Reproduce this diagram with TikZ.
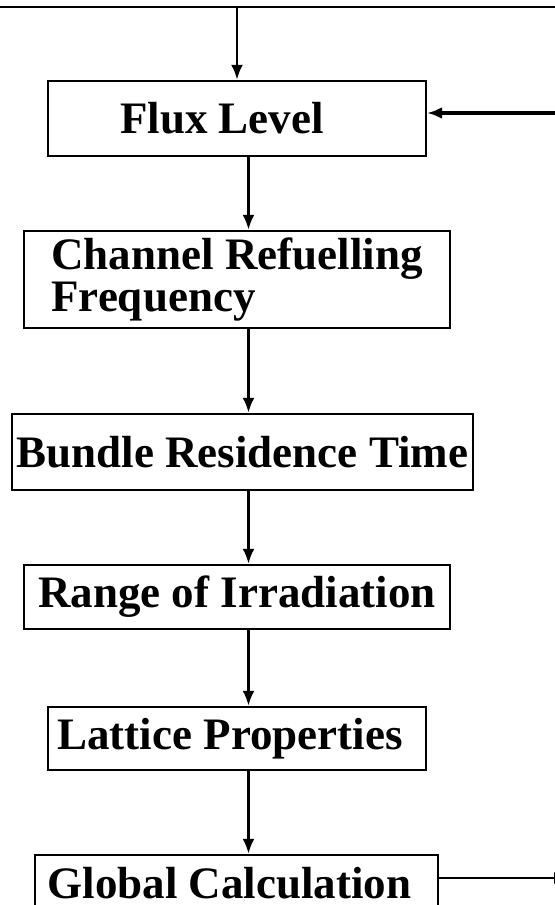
\documentclass[tikz,border=0pt]{standalone}
\usepackage{fontspec}
\setmainfont{Liberation Serif}
\usetikzlibrary{arrows.meta}

\tikzset{
  stage/.style={draw,line width=1.2pt,inner sep=0pt,
    font=\bfseries\fontsize{22.5}{18.5}\selectfont},
  flow/.style={line width=1.4pt,-{Latex[length=7.5pt,width=6pt]}},
}

\begin{document}
\begin{tikzpicture}[x=0.5pt,y=-0.5pt]
\clip (0,0) rectangle (555,905);

\coordinate (spine) at (248.5,0);
\coordinate (topL) at (0,7);
\coordinate (topR) at (555,7);
\coordinate (fback) at (555,113);
\coordinate (gout) at (569,878);

% stages
\node[stage,minimum width=189pt,minimum height=37.5pt] (flux) at (237,118.5) {\hspace*{-15pt}Flux Level};
\node[stage,minimum width=213pt,minimum height=48.5pt,align=left] (chan) at (237,279.5) {Channel Refuelling\\Frequency};
\node[stage,minimum width=230.5pt,minimum height=38pt] (bundle) at (242.5,452) {Bundle Residence Time};
\node[stage,minimum width=213pt,minimum height=32pt] (range) at (237,597) {Range of Irradiation};
\node[stage,minimum width=189pt,minimum height=31.5pt] (lattice) at (237,738.5) {\hspace*{-7pt}Lattice Properties};
\node[stage,minimum width=201.5pt,minimum height=28pt] (global) at (236.5,883) {\hspace*{-7pt}Global Calculation};

% loop lines
\draw[line width=1.4pt] (topL) -- (topR);
\draw[flow] (flux.north |- topL) -- (flux.north);
\draw[flow,line width=1.8pt] (fback) -- (fback -| flux.east);
\draw[flow] (global.east |- gout) -- (gout);

% chain
\draw[flow] (flux.south -| spine) -- (chan.north -| spine);
\draw[flow] (chan.south -| spine) -- (bundle.north -| spine);
\draw[flow] (bundle.south -| spine) -- (range.north -| spine);
\draw[flow] (range.south -| spine) -- (lattice.north -| spine);
\draw[flow] (lattice.south -| spine) -- (global.north -| spine);

\end{tikzpicture}
\end{document}
